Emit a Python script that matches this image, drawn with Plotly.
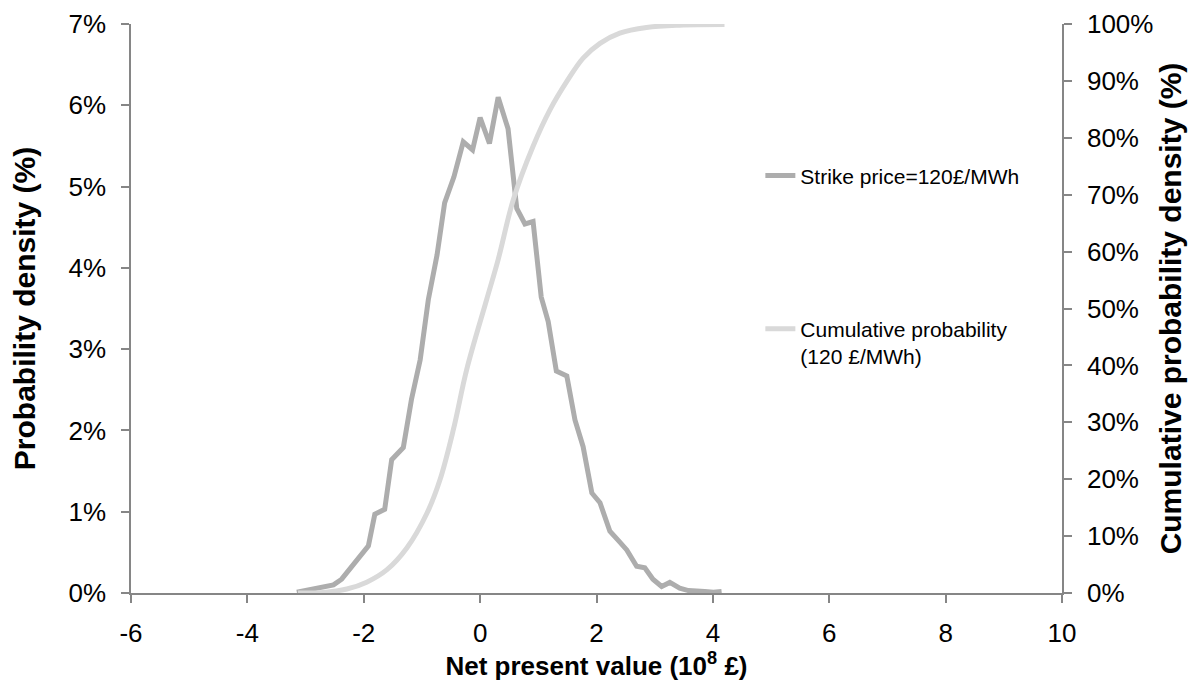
import plotly.graph_objects as go

# Probability density of NPV (strike price 120 £/MWh)
density_x = [-3.15, -3.01, -2.86, -2.70, -2.52, -2.38, -2.21, -2.07, -1.92, -1.81,
             -1.64, -1.52, -1.32, -1.18, -1.03, -0.89, -0.74, -0.61, -0.45, -0.29,
             -0.13, 0.00, 0.16, 0.31, 0.48, 0.63, 0.77, 0.91, 1.05, 1.17,
             1.31, 1.49, 1.63, 1.77, 1.92, 2.06, 2.23, 2.37, 2.52, 2.69,
             2.83, 2.97, 3.12, 3.26, 3.43, 3.58, 3.75, 3.86, 4.01, 4.15]
density_pct = [0.01, 0.03, 0.05, 0.08, 0.10, 0.17, 0.33, 0.46, 0.58, 0.97,
               1.03, 1.64, 1.79, 2.38, 2.87, 3.61, 4.16, 4.80, 5.12, 5.55,
               5.45, 5.85, 5.53, 6.10, 5.71, 4.73, 4.54, 4.57, 3.64, 3.34,
               2.73, 2.67, 2.13, 1.80, 1.23, 1.11, 0.76, 0.65, 0.53, 0.33,
               0.31, 0.17, 0.08, 0.13, 0.06, 0.03, 0.03, 0.02, 0.01, 0.02]

# Cumulative probability
cdf_x = [-3.13, -2.70, -2.29, -1.95, -1.60, -1.26, -0.91, -0.69, -0.46, -0.23,
         0.11, 0.31, 0.57, 0.91, 1.20, 1.49, 1.77, 2.06, 2.40, 2.86, 3.43, 4.20]
cdf_pct = [0.0, 0.1, 0.7, 1.9, 4.1, 7.9, 14.1, 19.9, 28.7, 39.3,
           51.5, 58.6, 69.1, 78.5, 84.9, 89.9, 94.0, 96.6, 98.4, 99.4, 99.8, 99.9]

x_tickvals = [-6, -4, -2, 0, 2, 4, 6, 8, 10]
x_ticktext = ["-6", "-4", "-2", "0", "2", "4", "6", "8", "10"]

name_density = "Strike price=120£/MWh"
name_cdf = "Cumulative probability<br>(120 £/MWh)"

x_title = "Net present value (10<sup>8</sup> £)"
y_title = "Probability density (%)"
y2_title = "Cumulative probability density (%)"

AXIS = "#868686"
FONT = "Liberation Sans, Arial, sans-serif"
TICK = 26
TITLE = 30

fig = go.Figure()
fig.add_trace(go.Scatter(x=density_x, y=density_pct, mode="lines", name=name_density,
                         line=dict(color="#ADADAD", width=5), legend="legend"))
fig.add_trace(go.Scatter(x=cdf_x, y=cdf_pct, mode="lines", name=name_cdf, yaxis="y2",
                         line=dict(color="#D9D9D9", width=5, shape="spline", smoothing=1.0),
                         legend="legend2"))

common = dict(showgrid=False, zeroline=False, showline=True, linecolor=AXIS, linewidth=1.5,
              ticks="outside", ticklen=8, tickcolor=AXIS, tickwidth=1.5,
              tickfont=dict(size=TICK, family=FONT), automargin=False)

fig.update_layout(
    width=1195, height=683,
    margin=dict(l=131, r=133, t=24, b=89.5),
    paper_bgcolor="white", plot_bgcolor="white",
    font=dict(family=FONT, color="black", size=TICK),
    xaxis=dict(range=[-6, 10], tickmode="array", tickvals=x_tickvals, ticktext=x_ticktext,
               ticklabelstandoff=8,
               title=dict(text="<b>" + x_title + "</b>", font=dict(size=26, family=FONT), standoff=5),
               **common),
    yaxis=dict(range=[0, 7], dtick=1, ticksuffix="%", ticklabelstandoff=10,
               title=dict(text="<b>" + y_title + "</b>", font=dict(size=TITLE, family=FONT), standoff=24),
               **common),
    yaxis2=dict(range=[0, 100], dtick=10, ticksuffix="%", overlaying="y", side="right",
                ticklabelstandoff=10,
                title=dict(text="<b>" + y2_title + "</b>", font=dict(size=TITLE, family=FONT), standoff=8),
                **common),
    legend=dict(x=0.676, y=0.733, xanchor="left", yanchor="middle",
                bgcolor="rgba(0,0,0,0)", font=dict(size=21, family=FONT)),
    legend2=dict(x=0.676, y=0.44, xanchor="left", yanchor="middle", valign="top",
                 bgcolor="rgba(0,0,0,0)", font=dict(size=21, family=FONT)),
    showlegend=True,
)

fig.write_html("out.html")
